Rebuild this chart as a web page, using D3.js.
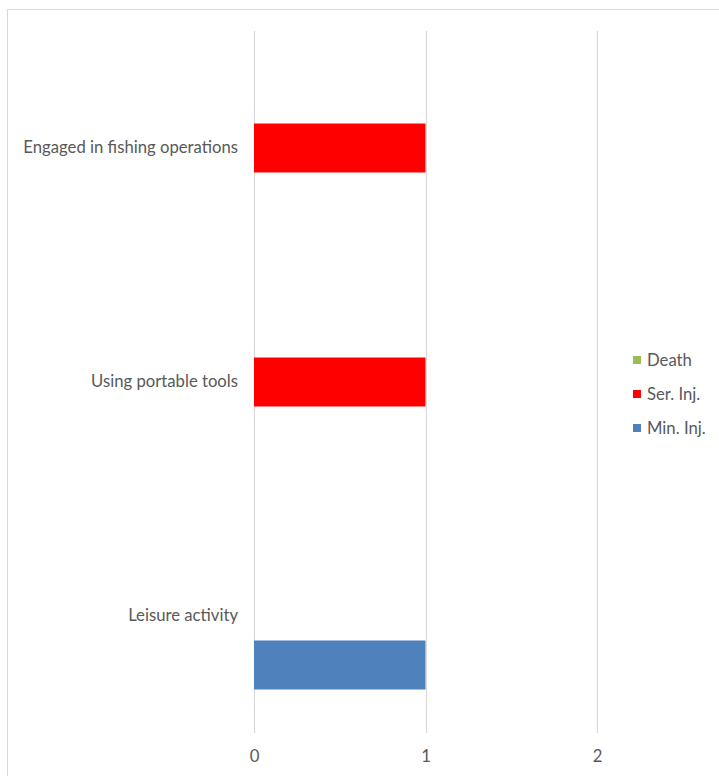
<!DOCTYPE html>
<html>
<head>
<meta charset="utf-8">
<script src="https://cdn.jsdelivr.net/npm/d3@7"></script>
<style>
  html, body { margin: 0; padding: 0; background: #fff; }
  svg { display: block; }
  text { font-family: Lato, "Open Sans", sans-serif; fill: #595959; }
</style>
</head>
<body>
<svg id="chart" width="719" height="776"></svg>
<script>
// Activity categories, top to bottom
const categories = ["Engaged in fishing operations", "Using portable tools", "Leisure activity"];
// Series, in legend order (top to bottom)
const seriesNames = ["Death", "Ser. Inj.", "Min. Inj."];
const seriesColors = ["#9bbb59", "#ff0000", "#4f81bd"];
// Counts per category for each series
const death  = [0, 0, 0];
const serInj = [1, 1, 0];
const minInj = [0, 0, 1];
const xTicks = [0, 1, 2];

const seriesValues = [death, serInj, minInj];

const svg = d3.select("#chart");
const margin = { top: 31, bottom: 43, left: 254, right: 122 };
const W = 719, H = 776;
const fontSize = "16.7px";

// Chart frame
svg.append("rect")
  .attr("x", 7.5).attr("y", 9.5)
  .attr("width", 730).attr("height", 790)
  .attr("fill", "none").attr("stroke", "#d9d9d9").attr("stroke-width", 1);

const x = d3.scaleLinear().domain([0, 2]).range([margin.left, W - margin.right]);
const y = d3.scaleBand().domain(categories).range([margin.top, H - margin.bottom]).paddingInner(0).paddingOuter(0);
const inner = d3.scaleBand().domain(seriesNames).range([0, y.bandwidth()]).paddingOuter(0.888).paddingInner(0);

// Vertical gridlines
svg.append("g").selectAll("line").data(xTicks).join("line")
  .attr("x1", d => Math.round(x(d)) + 0.5).attr("x2", d => Math.round(x(d)) + 0.5)
  .attr("y1", margin.top).attr("y2", H - margin.bottom)
  .attr("stroke", "#d9d9d9").attr("stroke-width", 1.2);

// Bars
const rows = [];
categories.forEach((c, i) => {
  seriesNames.forEach((s, j) => {
    rows.push({ cat: c, series: s, value: seriesValues[j][i], color: seriesColors[j] });
  });
});
svg.append("g").selectAll("rect").data(rows.filter(d => d.value > 0)).join("rect")
  .attr("x", x(0))
  .attr("y", d => y(d.cat) + inner(d.series))
  .attr("width", d => x(d.value) - x(0))
  .attr("height", inner.bandwidth())
  .attr("fill", d => d.color);

// Category axis labels
const yAxis = d3.axisLeft(y).tickSize(0).tickPadding(16);
const gy = svg.append("g").attr("transform", `translate(${x(0)},0)`).call(yAxis);
gy.select(".domain").remove();
gy.selectAll("text").style("font-size", fontSize).attr("fill", "#595959")
  .style("font-family", "Lato, 'Open Sans', sans-serif");

// Value axis labels
const xAxis = d3.axisBottom(x).tickValues(xTicks).tickFormat(d3.format("d")).tickSize(0).tickPadding(17);
const gx = svg.append("g").attr("transform", `translate(0,${H - margin.bottom})`).call(xAxis);
gx.select(".domain").remove();
gx.selectAll("text").style("font-size", fontSize).attr("fill", "#595959")
  .style("font-family", "Lato, 'Open Sans', sans-serif");

// Legend
const legend = svg.append("g").attr("transform", "translate(633,360)");
seriesNames.forEach((s, j) => {
  const g = legend.append("g").attr("transform", `translate(0,${j * 34})`);
  g.append("rect").attr("x", 0).attr("y", -4).attr("width", 8).attr("height", 8).attr("fill", seriesColors[j]);
  g.append("text").attr("x", 14).attr("y", 0).attr("dy", "0.35em")
    .style("font-size", fontSize).text(s);
});
</script>
</body>
</html>
